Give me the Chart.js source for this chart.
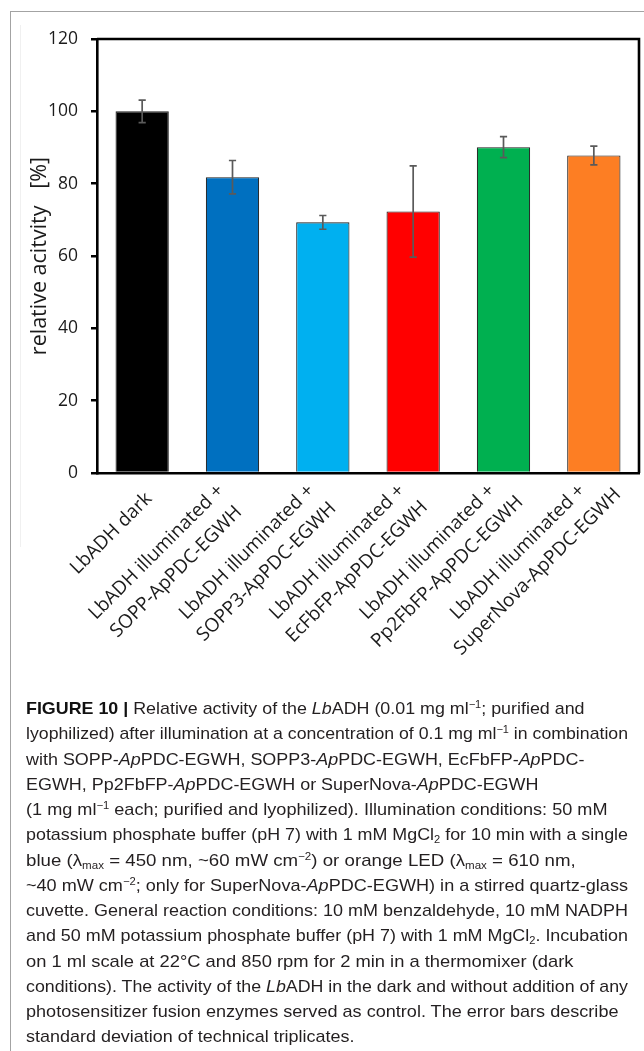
<!DOCTYPE html>
<html>
<head>
<meta charset="utf-8">
<title>Relative activity of LbADH</title>
<script src="https://cdn.jsdelivr.net/npm/chart.js@4.4.1/dist/chart.umd.min.js"></script>
<style>
  html, body { margin: 0; padding: 0; background: #fff; }
  body { width: 644px; height: 1051px; position: relative; overflow: hidden; }
  #frameTop { position: absolute; left: 10px; top: 10.5px; width: 634px; height: 1.4px; background: #a3a3a3; }
  #frameLeft { position: absolute; left: 9.5px; top: 10.5px; width: 1.4px; height: 1041px; background: #a3a3a3; }
  #innerEdge { position: absolute; left: 20px; top: 25px; width: 1px; height: 522px; background: #f0f0f0; }
  #chartBox { position: absolute; left: 0; top: 0; width: 644px; height: 700px; }
  #caption { position: absolute; left: 0; top: 0; width: 644px; height: 1051px;
             font-family: "Liberation Sans", Arial, sans-serif;
             font-size: 17px; color: #231f20; }
  .cl { position: absolute; left: 25.5px; white-space: nowrap; transform-origin: 0 0; line-height: 25px; }
  .cl b { color: #111; }
  sup, sub { font-size: 0.62em; line-height: 0; position: relative; vertical-align: baseline; }
  sup { top: -0.55em; }
  sub { top: 0.3em; }
</style>
</head>
<body>
<div id="frameTop"></div>
<div id="frameLeft"></div>
<div id="innerEdge"></div>
<div id="chartBox"><canvas id="chart" width="644" height="700"></canvas></div>
<div id="caption"></div>

<script>
// ---- data ----
const labelLines = [
  ['LbADH dark'],
  ['LbADH illuminated +', 'SOPP-ApPDC-EGWH'],
  ['LbADH illuminated +', 'SOPP3-ApPDC-EGWH'],
  ['LbADH illuminated +', 'EcFbFP-ApPDC-EGWH'],
  ['LbADH illuminated +', 'Pp2FbFP-ApPDC-EGWH'],
  ['LbADH illuminated +', 'SuperNova-ApPDC-EGWH']
];
const activity = [100, 81.8, 69.3, 72.3, 90.1, 87.8];   // relative activity [%]
const stdDev   = [3.1, 4.6, 1.9, 12.6, 2.9, 2.6];        // standard deviation [%]
const barColors = ['#000000', '#0070C0', '#00B0F0', '#FF0000', '#00B050', '#FD7E23'];
const yTicks = [0, 20, 40, 60, 80, 100, 120];
const yTitle = 'relative acitvity   [%]';

// ---- caption text ----
const captionLines = [
  '<b>FIGURE 10 |</b> Relative activity of the <i>Lb</i>ADH (0.01 mg ml<sup>\u22121</sup>; purified and',
  'lyophilized) after illumination at a concentration of 0.1 mg ml<sup>\u22121</sup> in combination',
  'with SOPP-<i>Ap</i>PDC-EGWH, SOPP3-<i>Ap</i>PDC-EGWH, EcFbFP-<i>Ap</i>PDC-',
  'EGWH, Pp2FbFP-<i>Ap</i>PDC-EGWH or SuperNova-<i>Ap</i>PDC-EGWH',
  '(1 mg ml<sup>\u22121</sup> each; purified and lyophilized). Illumination conditions: 50 mM',
  'potassium phosphate buffer (pH 7) with 1 mM MgCl<sub>2</sub> for 10 min with a single',
  'blue (\u03bb<sub>max</sub> = 450 nm, ~60 mW cm<sup>\u22122</sup>) or orange LED (\u03bb<sub>max</sub> = 610 nm,',
  '~40 mW cm<sup>\u22122</sup>; only for SuperNova-<i>Ap</i>PDC-EGWH) in a stirred quartz-glass',
  'cuvette. General reaction conditions: 10 mM benzaldehyde, 10 mM NADPH',
  'and 50 mM potassium phosphate buffer (pH 7) with 1 mM MgCl<sub>2</sub>. Incubation',
  'on 1 ml scale at 22\u00b0C and 850 rpm for 2 min in a thermomixer (dark',
  'conditions). The activity of the <i>Lb</i>ADH in the dark and without addition of any',
  'photosensitizer fusion enzymes served as control. The error bars describe',
  'standard deviation of technical triplicates.'
];
// set width of each caption line (px)
const captionWidths = [558.5, 602, 558.5, 512.5, 581.5, 602, 551.5, 602, 602, 602, 547.5, 602, 592.5, 328.5];

// condensed setting: each line narrowed, kept close to one common factor
function buildCaption() {
  const box = document.getElementById('caption');
  const divs = captionLines.map((html, i) => {
    const d = document.createElement('div');
    d.className = 'cl';
    d.style.top = (696 + i * 25.26) + 'px';
    d.innerHTML = html;
    box.appendChild(d);
    return d;
  });
  const ratios = divs.map((d, i) => captionWidths[i] / d.getBoundingClientRect().width);
  const sorted = ratios.slice().sort((a, b) => a - b);
  const med = sorted[Math.floor(sorted.length / 2)];
  divs.forEach((d, i) => {
    const r = Math.min(med * 1.04, Math.max(med * 0.96, ratios[i]));
    d.style.transform = 'scaleX(' + r.toFixed(4) + ')';
  });
}

// ---- plugins ----
const TEXT = '#1b1b1b';

// error bars (mean ± SD) drawn through the y scale
const errorBars = {
  id: 'errorBars',
  afterDatasetsDraw(chart) {
    const ctx = chart.ctx, ys = chart.scales.y;
    const meta = chart.getDatasetMeta(0);
    ctx.save();
    ctx.strokeStyle = '#5a5a5a';
    ctx.lineWidth = 1.7;
    meta.data.forEach((bar, i) => {
      const x = bar.x;
      const yHi = ys.getPixelForValue(activity[i] + stdDev[i]);
      const yLo = ys.getPixelForValue(activity[i] - stdDev[i]);
      const cap = 3.6;
      ctx.beginPath();
      ctx.moveTo(x, yHi); ctx.lineTo(x, yLo);
      ctx.moveTo(x - cap, yHi); ctx.lineTo(x + cap, yHi);
      ctx.moveTo(x - cap, yLo); ctx.lineTo(x + cap, yLo);
      ctx.stroke();
    });
    ctx.restore();
  }
};

// closed box round the plot area
const plotFrame = {
  id: 'plotFrame',
  afterDraw(chart) {
    const {left, top, right, bottom} = chart.chartArea;
    const ctx = chart.ctx;
    ctx.save();
    ctx.strokeStyle = '#000';
    ctx.lineWidth = 2.6;
    ctx.beginPath();
    ctx.moveTo(left, top); ctx.lineTo(right, top); ctx.lineTo(right, bottom);
    ctx.stroke();
    ctx.restore();
  }
};

// rotated category labels: the first line ends at a fixed spot below the tick,
// further lines are centred on the first one
const slantLabels = {
  id: 'slantLabels',
  afterDraw(chart) {
    const xs = chart.scales.x, ctx = chart.ctx;
    const LH = 28;
    ctx.save();
    ctx.font = '19px "Open Sans"';
    ctx.fillStyle = TEXT;
    ctx.textAlign = 'center';
    ctx.textBaseline = 'middle';
    chart.data.labels.forEach((lab, i) => {
      const lines = [].concat(lab);
      const n = lines.length;
      const uEnd = -11.5 - 7.2 * (n - 1);
      const v0 = 21 - 18.8 * (n - 1);
      const w1 = ctx.measureText(lines[0]).width;
      const uc = uEnd - w1 / 2;
      ctx.save();
      ctx.translate(xs.getPixelForTick(i), xs.top);
      ctx.rotate(-Math.PI / 4);
      lines.forEach((l, k) => ctx.fillText(l, uc, v0 + k * LH));
      ctx.restore();
    });
    ctx.restore();
  }
};

function makeChart() {
  new Chart(document.getElementById('chart'), {
    type: 'bar',
    data: {
      labels: labelLines,
      datasets: [{
        data: activity,
        backgroundColor: barColors,
        borderColor: '#1f1f1f',
        borderWidth: 1.1,
        barPercentage: 0.59,
        categoryPercentage: 1
      }]
    },
    options: {
      responsive: false,
      animation: false,
      devicePixelRatio: 1,
      layout: { padding: { top: 39, right: 5, left: 0, bottom: 0 } },
      plugins: { legend: { display: false }, tooltip: { enabled: false } },
      scales: {
        x: {
          type: 'category',
          grid: { display: true, drawOnChartArea: false, drawTicks: false },
          border: { display: true, color: '#000', width: 2.6 },
          ticks: { display: false },
          afterFit(s) { s.height = 227; }
        },
        y: {
          min: yTicks[0],
          max: yTicks[yTicks.length - 1],
          ticks: {
            stepSize: yTicks[1] - yTicks[0],
            padding: 13,
            color: TEXT,
            font: { family: 'Open Sans', size: 17.5 }
          },
          grid: { drawOnChartArea: false, drawTicks: true, tickLength: 6, color: '#000', lineWidth: 2.5 },
          border: { display: true, color: '#000', width: 2.6 },
          title: {
            display: true,
            text: yTitle,
            color: TEXT,
            font: { family: 'Open Sans', size: 21.5 },
            padding: { top: 27, bottom: 0 }
          },
          afterFit(s) { s.width = 97; }
        }
      }
    },
    plugins: [errorBars, plotFrame, slantLabels]
  });
}

Promise.all([
  document.fonts.load('19px "Open Sans"'),
  document.fonts.load('17px "Liberation Sans"'),
  document.fonts.load('bold 17px "Liberation Sans"'),
  document.fonts.load('italic 17px "Liberation Sans"')
]).catch(() => {}).then(() => { makeChart(); buildCaption(); });
</script>
</body>
</html>
